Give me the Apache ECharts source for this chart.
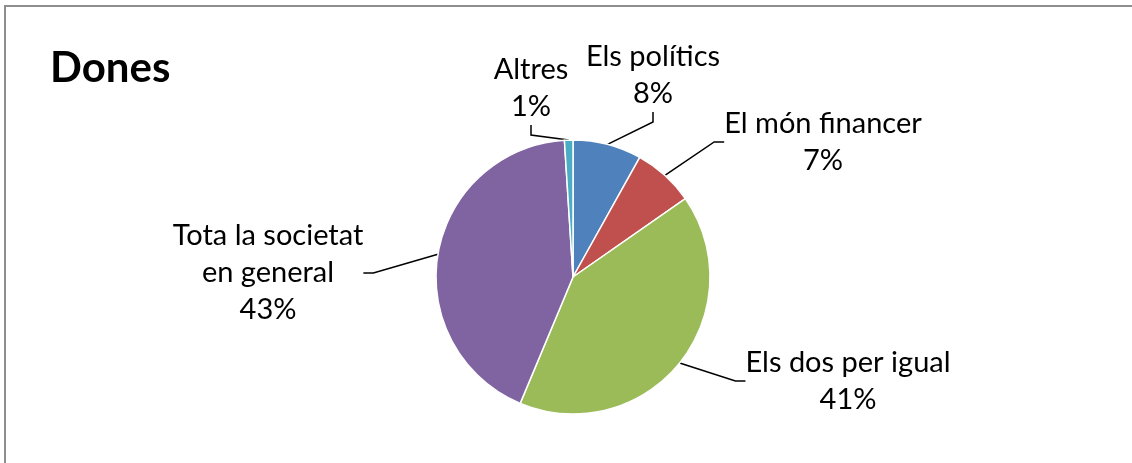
<!DOCTYPE html>
<html><head><meta charset="utf-8">
<script src="https://cdn.jsdelivr.net/npm/echarts@6/dist/echarts.min.js"></script>
<style>html,body{margin:0;padding:0;background:#fff;overflow:hidden}#c{width:1132px;height:463px}</style>
</head><body><div id="c"></div>
<script>
const title = 'Dones';
const categories = ['Els polítics', 'El món financer', 'Els dos per igual', 'Tota la societat\nen general', 'Altres'];
const values = [8.1, 7.2, 41.0, 42.7, 1.0];
const colors = ['#4F81BD', '#C0504D', '#9BBB59', '#8064A2', '#4BACC6'];
// label block centres (layout only)
const labelPos = [[653, 75], [823, 142], [848, 381], [268, 273], [531, 88]];

const chart = echarts.init(document.getElementById('c'), null, {renderer: 'canvas', width: 1132, height: 463});
const FONT = 'Lato';
chart.setOption({
  animation: false,
  backgroundColor: '#fff',
  title: {text: title, left: 45, top: 42, textStyle: {fontFamily: FONT, fontWeight: 'bold', fontSize: 42, color: '#000'}},
  graphic: [
    {type: 'line', shape: {x1: 4, y1: 6, x2: 1132, y2: 6}, style: {stroke: '#8e8e8e', lineWidth: 2}, silent: true},
    {type: 'line', shape: {x1: 5, y1: 5, x2: 5, y2: 463}, style: {stroke: '#8e8e8e', lineWidth: 2}, silent: true}
  ],
  series: [{
    type: 'pie',
    center: [573, 277],
    radius: [0, 137],
    startAngle: 90,
    clockwise: true,
    data: categories.map((n, i) => ({name: n, value: values[i], itemStyle: {color: colors[i]}})),
    itemStyle: {borderColor: '#fff', borderWidth: 1.5},
    label: {
      show: true, position: 'outside', color: '#000', fontFamily: FONT, fontSize: 29, lineHeight: 37, align: 'center',
      formatter: p => p.name + '\n' + Math.round(p.value) + '%'
    },
    labelLine: {show: true, length: 10, length2: 10, lineStyle: {color: '#000', width: 1.5}},
    labelLayout: p => ({x: labelPos[p.dataIndex][0], y: labelPos[p.dataIndex][1], align: 'center', verticalAlign: 'middle'})
  }]
});
</script></body></html>
